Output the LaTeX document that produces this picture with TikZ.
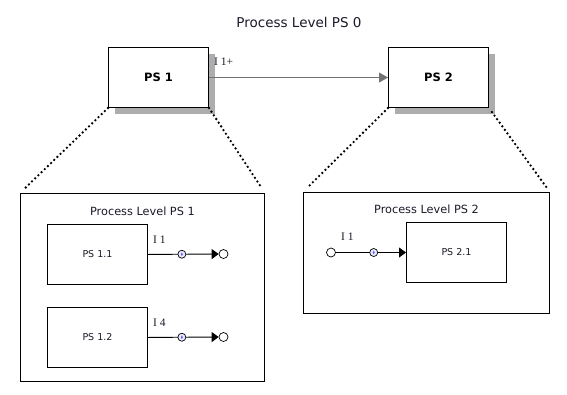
\documentclass[tikz,border=0pt]{standalone}
\usepackage{fontspec}
\setmainfont{DejaVu Sans}
\newfontfamily\lblfont{Liberation Serif}
\usetikzlibrary{arrows.meta,shadows,calc}
\definecolor{txt}{HTML}{1A1A28}
\begin{document}
\begin{tikzpicture}[x=1pt,y=-1pt,
  topbox/.style={draw, line width=1pt, fill=white, minimum width=100pt, minimum height=60pt,
    inner sep=0pt, font=\bfseries\fontsize{11.5}{13}\selectfont, text=black,
    drop shadow={shadow xshift=6pt, shadow yshift=-6pt, fill=gray!75, opacity=0.85}},
  subbox/.style={draw, line width=0.9pt, fill=white, minimum width=100pt, minimum height=60pt,
    inner sep=0pt, font=\fontsize{9.5}{11}\selectfont, text=txt},
  outer/.style={draw, line width=0.9pt, anchor=north west, inner sep=0pt},
  ttl/.style={font=\fontsize{11.3}{13}\selectfont, text=txt, anchor=north},
  lbl/.style={font=\lblfont\fontsize{11.5}{12}\selectfont, text=txt, anchor=south west, inner sep=0pt},
  port/.style={circle, draw, line width=0.7pt, fill=white, minimum size=9pt, inner sep=0pt},
  icon/.style={circle, draw, line width=0.7pt, fill=blue!8, minimum size=8pt, inner sep=0pt,
    path picture={\fill[blue!65] (path picture bounding box.center) ellipse (1pt and 1.8pt);}},
  flow/.style={line width=0.9pt, -{Triangle[length=7pt,width=10pt]}},
  dots/.style={line width=2.6pt, dash pattern=on 0pt off 4.4pt, line cap=round}
]
\useasboundingbox (0,0) rectangle (567,394);

% title
\node[font=\fontsize{13.5}{15}\selectfont, text=txt] (title) at (299,22) {Process Level PS 0};

% top level boxes
\node[topbox, anchor=north west] (ps1) at (108,47) {PS 1};
\node[topbox, anchor=north west] (ps2) at (388,47) {PS 2};
\draw[gray!90!black, line width=0.9pt, -{Triangle[length=9pt,width=10pt]}] (ps1.east) -- (ps2.west);
\node[lbl] (l0) at (214,66) {I 1+};

% outer boxes
\node[outer, minimum width=244pt, minimum height=188pt] (o1) at (20,193) {};
\node[outer, minimum width=246pt, minimum height=121pt] (o2) at (303,192) {};
\node[ttl] (t1) at ($(o1.north)+(0,10)$) {Process Level PS 1};
\node[ttl] (t2) at ($(o2.north)+(0,9)$) {Process Level PS 2};

% dotted zoom lines
\draw[dots, shorten >=5pt] (ps1.south west) -- (o1.north west);
\draw[dots, shorten >=5pt] (ps1.south east) -- (o1.north east);
\draw[dots, shorten >=6pt] (ps2.south west) -- (o2.north west);
\draw[dots, shorten <=5pt, shorten >=5pt] (ps2.south east) -- (o2.north east);

% sub processes
\node[subbox, anchor=north west] (ps11) at (47,224) {PS 1.1};
\node[subbox, anchor=north west] (ps12) at (47,307) {PS 1.2};
\node[subbox, anchor=north west] (ps21) at (406,222) {PS 2.1};

% outputs of PS 1.1 and PS 1.2
\node[port] (p11) at (223.5,254) {};
\node[port] (p12) at (223.5,337) {};
\draw[flow] (ps11.east) -- (p11.west) node[icon, pos=0.48] (i11) {};
\draw[flow] (ps12.east) -- (p12.west) node[icon, pos=0.48] (i12) {};
\node[lbl] (l11) at (153,244) {I 1};
\node[lbl] (l12) at (153,327) {I 4};

% input of PS 2.1
\node[port] (p21) at (331,252.5) {};
\draw[flow] (p21.east) -- (ps21.west |- p21.east) node[icon, pos=0.54] (i21) {};
\node[lbl] (l21) at (341,241) {I 1};
\end{tikzpicture}
\end{document}
